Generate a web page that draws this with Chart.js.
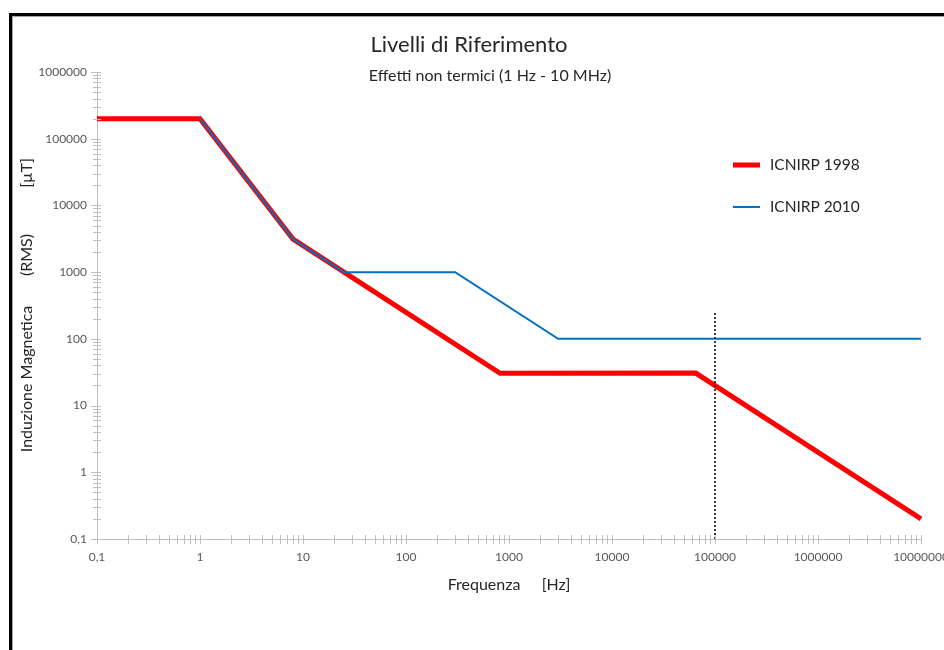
<!DOCTYPE html>
<html>
<head>
<meta charset="utf-8">
<script src="https://cdn.jsdelivr.net/npm/chart.js@4"></script>
<style>
  body { margin: 0; background: #fff; overflow: hidden; width: 944px; height: 650px; position: relative; }
  #frame { position: absolute; left: 9px; top: 13px; width: 2000px; height: 2000px;
           border-left: 3px solid #000; border-top: 3px solid #000;
           box-shadow: inset 1px 1px 0 #a6a6a6; }
  #chart { position: absolute; left: 0; top: 0; }
</style>
</head>
<body>
<div id="frame"></div>
<canvas id="chart" width="980" height="650"></canvas>
<script>
// ICNIRP 1998 (lavoratori)
var freq1998 = [0.1, 1, 8, 25, 820, 65000, 10000000];
var lim1998  = [200000, 200000, 3125, 1000, 30.5, 30.7, 0.2];

// ICNIRP 2010
var freq2010 = [1, 8, 25, 300, 3000, 10000000];
var lim2010  = [200000, 3125, 1000, 1000, 100, 100];

// linea tratteggiata a 100 kHz
var markFreq = [100000, 100000];
var markVal  = [0.1, 250];

var xTicks = [0.1, 1, 10, 100, 1000, 10000, 100000, 1000000, 10000000];
var xTickLabels = ["0,1", "1", "10", "100", "1000", "10000", "100000", "1000000", "10000000"];
var yTicks = [0.1, 1, 10, 100, 1000, 10000, 100000, 1000000];
var yTickLabels = ["0,1", "1", "10", "100", "1000", "10000", "100000", "1000000"];

var FONT = "Lato, 'Open Sans', sans-serif";

function pts(xs, ys) {
  return xs.map(function(x, i){ return {x: x, y: ys[i]}; });
}

// minor ticks, titles, legend
var decor = {
  id: 'decor',
  afterDraw: function(chart) {
    var ctx = chart.ctx, a = chart.chartArea;
    var xs = chart.scales.x, ys = chart.scales.y;
    ctx.save();
    ctx.strokeStyle = '#bfbfbf';
    ctx.lineWidth = 1;
    ctx.beginPath();
    for (var d = -1; d < 7; d++) {
      for (var k = 1; k <= 10; k++) {
        var px = Math.round(xs.getPixelForValue(k * Math.pow(10, d))) + 0.5;
        ctx.moveTo(px, a.bottom - 4);
        ctx.lineTo(px, a.bottom + 5);
      }
    }
    for (var d = -1; d < 6; d++) {
      for (var k = 1; k <= 10; k++) {
        var py = Math.round(ys.getPixelForValue(k * Math.pow(10, d))) + 0.5;
        var major = (k === 1 || k === 10);
        ctx.moveTo(a.left - (major ? 6 : 4), py);
        ctx.lineTo(a.left + 4, py);
      }
    }
    ctx.stroke();

    // titoli
    ctx.fillStyle = '#262626';
    ctx.textAlign = 'center';
    ctx.textBaseline = 'middle';
    ctx.font = '22px ' + FONT;
    ctx.fillText('Livelli di Riferimento', 469, 45);
    ctx.font = '16px ' + FONT;
    ctx.fillText('Effetti non termici (1 Hz - 10 MHz)', 490, 76);

    // titoli assi
    ctx.font = '16px ' + FONT;
    ctx.fillText('Frequenza', 484, 585);
    ctx.fillText('[Hz]', 556, 585);
    ctx.save();
    ctx.translate(27, 0);
    ctx.rotate(-Math.PI / 2);
    ctx.fillText('Induzione Magnetica', -379, 0);
    ctx.fillText('(RMS)', -255, 0);
    ctx.fillText('[\u00b5T]', -173, 0);
    ctx.restore();

    // legenda
    var items = [chart.data.datasets[0], chart.data.datasets[1]];
    var ly = [165, 207];
    ctx.textAlign = 'left';
    ctx.font = '15.5px ' + FONT;
    items.forEach(function(ds, i){
      ctx.strokeStyle = ds.borderColor;
      ctx.lineWidth = ds.borderWidth;
      ctx.beginPath();
      ctx.moveTo(733, ly[i]);
      ctx.lineTo(760, ly[i]);
      ctx.stroke();
      ctx.fillStyle = '#262626';
      ctx.fillText(ds.label, 770, ly[i]);
    });
    ctx.restore();
  }
};

new Chart(document.getElementById('chart'), {
  type: 'line',
  data: {
    datasets: [
      {
        label: 'ICNIRP 1998',
        data: pts(freq1998, lim1998),
        borderColor: '#ff0000',
        borderWidth: 5,
        pointRadius: 0,
        order: 2,
        clip: false
      },
      {
        label: 'ICNIRP 2010',
        data: pts(freq2010, lim2010),
        borderColor: '#0070c0',
        borderWidth: 2,
        pointRadius: 0,
        order: 1,
        clip: false
      },
      {
        label: '100 kHz',
        data: pts(markFreq, markVal),
        borderColor: '#000000',
        borderWidth: 1.5,
        borderDash: [2, 2],
        pointRadius: 0,
        order: 0,
        clip: false
      }
    ]
  },
  options: {
    responsive: false,
    animation: false,
    devicePixelRatio: 1,
    layout: { padding: { top: 72, left: 0, right: 59, bottom: 0 } },
    plugins: {
      legend: { display: false },
      title: { display: false },
      tooltip: { enabled: false }
    },
    scales: {
      x: {
        type: 'logarithmic',
        min: 0.1,
        max: 10000000,
        afterBuildTicks: function(s){ s.ticks = xTicks.map(function(v){ return {value: v}; }); },
        afterFit: function(s){ s.height = 111; },
        grid: { display: false, drawTicks: false },
        border: { display: true, color: '#bfbfbf', width: 1 },
        ticks: {
          autoSkip: false,
          maxRotation: 0,
          padding: 11,
          color: '#595959',
          font: { family: FONT, size: 12 },
          callback: function(v, i){ return xTickLabels[i]; }
        }
      },
      y: {
        type: 'logarithmic',
        min: 0.1,
        max: 1000000,
        afterBuildTicks: function(s){ s.ticks = yTicks.map(function(v){ return {value: v}; }); },
        afterFit: function(s){ s.width = 97; },
        grid: { display: false, drawTicks: false },
        border: { display: true, color: '#bfbfbf', width: 1 },
        ticks: {
          autoSkip: false,
          padding: 10,
          color: '#595959',
          font: { family: FONT, size: 12 },
          callback: function(v, i){ return yTickLabels[i]; }
        }
      }
    }
  },
  plugins: [decor]
});
</script>
</body>
</html>
